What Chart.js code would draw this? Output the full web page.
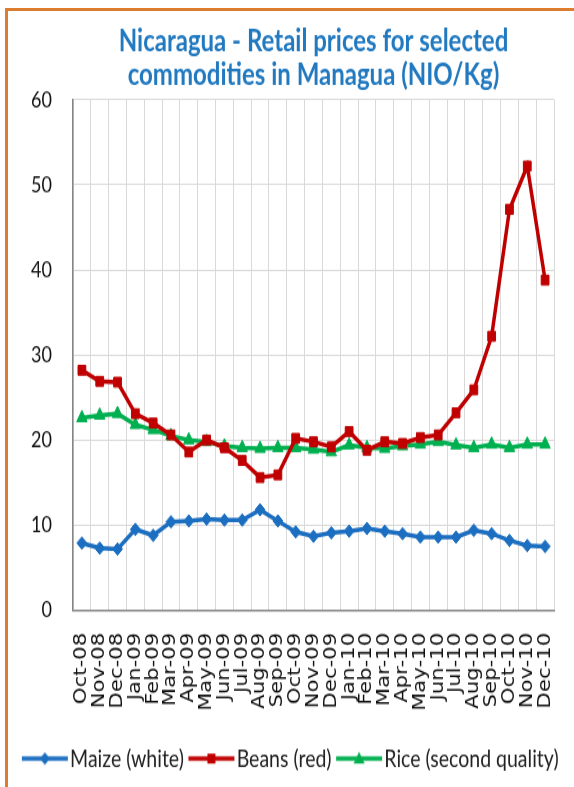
<!DOCTYPE html>
<html>
<head>
<meta charset="utf-8">
<script src="https://cdn.jsdelivr.net/npm/chart.js@4.4.1/dist/chart.umd.min.js"></script>
<style>
    html, body { margin: 0; padding: 0; background: #fff; }
    #wrap { position: relative; width: 574px; height: 787px; overflow: hidden; background: #fff; }
    /* the original picture is stretched vertically, so the chart is drawn short and scaled up */
    #stretch { position: absolute; left: 0; top: 0; width: 574px; height: 630px; transform: scaleY(1.2492); transform-origin: 0 0; }
    #frame { position: absolute; left: 5px; top: 8px; width: 620px; height: 820px; border-top: 3px solid #dd7d2f; border-left: 3px solid #dd7d2f; pointer-events: none; }
</style>
</head>
<body>
<div id="wrap">
    <div id="stretch"><canvas id="priceChart" width="574" height="630"></canvas></div>
    <div id="frame"></div>
</div>
<script>
// Data (NIO/Kg)
const months = ['Oct-08', 'Nov-08', 'Dec-08', 'Jan-09', 'Feb-09', 'Mar-09', 'Apr-09', 'May-09', 'Jun-09',
    'Jul-09', 'Aug-09', 'Sep-09', 'Oct-09', 'Nov-09', 'Dec-09', 'Jan-10', 'Feb-10', 'Mar-10', 'Apr-10',
    'May-10', 'Jun-10', 'Jul-10', 'Aug-10', 'Sep-10', 'Oct-10', 'Nov-10', 'Dec-10'];
const maize = [7.9, 7.3, 7.2, 9.5, 8.8, 10.4, 10.5, 10.7, 10.6, 10.6, 11.8, 10.5, 9.2, 8.7, 9.1,
    9.3, 9.6, 9.3, 9.0, 8.6, 8.6, 8.6, 9.4, 9.0, 8.2, 7.6, 7.5];
const beans = [28.2, 26.9, 26.8, 23.1, 22.0, 20.6, 18.6, 20.0, 19.1, 17.6, 15.6, 15.9, 20.2, 19.8, 19.2,
    21.0, 18.8, 19.8, 19.6, 20.3, 20.6, 23.2, 25.9, 32.2, 47.1, 52.2, 38.8];
const rice = [22.6, 22.9, 23.1, 21.8, 21.2, 20.5, 20.0, 19.8, 19.3, 19.1, 19.0, 19.1, 19.1, 18.9, 18.6,
    19.4, 19.1, 19.0, 19.3, 19.5, 19.8, 19.4, 19.1, 19.5, 19.1, 19.5, 19.5];
const seriesNames = ['Maize (white)', 'Beans (red)', 'Rice (second quality)'];
const titleLines = ['Nicaragua - Retail prices for selected', 'commodities in Managua (NIO/Kg)'];
const yMin = 0;
const yMax = 60;
const yStep = 10;

const colors = ['#1c6fc0', '#c00000', '#00b050'];
const markers = ['rectRot', 'rect', 'triangle'];

// legend icon: line with the marker in the middle, like Excel
function makeIcon(color, shape) {
    const c = document.createElement('canvas');
    c.width = 48;
    c.height = 14;
    const g = c.getContext('2d');
    g.strokeStyle = color;
    g.fillStyle = color;
    g.lineWidth = 3.5;
    g.beginPath();
    g.moveTo(1, 7);
    g.lineTo(47, 7);
    g.stroke();
    g.beginPath();
    if (shape === 'rectRot') {
        g.moveTo(24, 2); g.lineTo(29, 7); g.lineTo(24, 12); g.lineTo(19, 7);
    } else if (shape === 'rect') {
        g.rect(20, 3, 8, 8);
    } else {
        g.moveTo(24, 1.5); g.lineTo(29.5, 11); g.lineTo(18.5, 11);
    }
    g.closePath();
    g.fill();
    return c;
}
const icons = colors.map((c, i) => makeIcon(c, markers[i]));

function makeDataset(label, data, i, radius) {
    return {
        label: label,
        data: data,
        borderColor: colors[i],
        backgroundColor: colors[i],
        borderWidth: 3.5,
        tension: 0,
        pointStyle: markers[i],
        pointRadius: radius,
        pointBackgroundColor: colors[i],
        pointBorderColor: colors[i],
        pointBorderWidth: 1
    };
}

const ctx = document.getElementById('priceChart').getContext('2d');
const priceChart = new Chart(ctx, {
    type: 'line',
    data: {
        labels: months,
        datasets: [
            makeDataset(seriesNames[0], maize, 0, 5),
            makeDataset(seriesNames[1], beans, 1, 5.5),
            makeDataset(seriesNames[2], rice, 2, 6)
        ]
    },
    options: {
        responsive: false,
        animation: false,
        layout: { padding: { left: 14, right: 0, top: 0, bottom: 3 } },
        plugins: {
            title: {
                display: true,
                fullSize: false,
                text: titleLines,
                color: '#2179c0',
                font: { family: 'Lato', weight: 'bold', size: 24, lineHeight: 1.12 },
                padding: { top: 20, bottom: 6 }
            },
            legend: {
                position: 'bottom',
                labels: {
                    usePointStyle: true,
                    pointStyleWidth: 31,
                    padding: 12,
                    color: '#222',
                    font: { family: 'Lato', size: 19.5 },
                    generateLabels: function(chart) {
                        const items = Chart.defaults.plugins.legend.labels.generateLabels(chart);
                        return items.map((it, i) => Object.assign(it, { pointStyle: icons[i] }));
                    }
                }
            },
            tooltip: { enabled: false }
        },
        scales: {
            x: {
                offset: true,
                grid: { offset: true, color: '#d9d9d9', drawTicks: false },
                border: { color: '#868686', width: 1.5 },
                ticks: {
                    autoSkip: false,
                    minRotation: 90,
                    maxRotation: 90,
                    padding: 18,
                    color: '#111',
                    font: { family: 'DejaVu Sans', size: 17 }
                },
                afterFit: function(scale) {
                    scale.height = 97;
                    scale.paddingLeft = 0;
                    scale.paddingRight = 0;
                }
            },
            y: {
                min: yMin,
                max: yMax,
                ticks: { stepSize: yStep, padding: 21, color: '#111', font: { family: 'Lato', size: 18 } },
                grid: { color: '#d9d9d9', drawTicks: false },
                border: { color: '#868686', width: 1.5 },
                afterFit: function(scale) { scale.width = 59; }
            },
            yRight: {
                position: 'right',
                grid: { display: false },
                border: { display: false },
                ticks: { display: false },
                afterFit: function(scale) { scale.width = 20; }
            }
        }
    }
});
</script>
</body>
</html>
